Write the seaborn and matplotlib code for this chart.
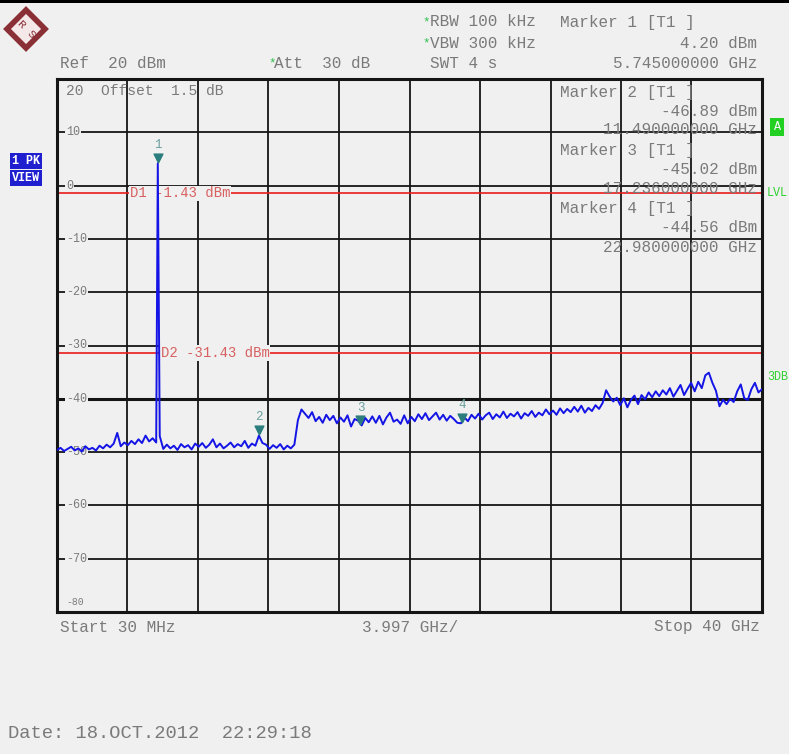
import numpy as np
import pandas as pd
import seaborn as sns
import matplotlib.pyplot as plt
from matplotlib.patches import Polygon, Rectangle
from matplotlib.transforms import offset_copy

# Sweep: 30 MHz .. 40 GHz, trace levels in dBm
freq_ghz = np.linspace(0.03, 40.0, 200)
level_dbm = [
    -49.6, -49.2, -49.8, -49.4, -49.0, -49.7, -49.3, -49.9, -48.9, -49.5,
    -49.2, -49.7, -48.8, -49.3, -48.6, -49.1, -48.4, -46.4, -48.9, -48.2,
    -48.7, -47.9, -48.5, -47.6, -48.3, -46.9, -48.0, -47.4, -48.2, -47.0,
    -49.4, -48.6, -49.3, -48.8, -49.6, -48.5, -49.1, -48.7, -49.5, -48.4,
    -49.0, -48.3, -49.2, -48.6, -47.6, -49.1, -48.4, -49.3, -48.8, -48.2,
    -49.1, -48.5, -48.9, -47.9, -49.2, -48.4, -48.8, -46.9, -48.3, -48.6,
    -49.4, -48.7, -49.2, -48.5, -49.5, -48.8, -49.3, -48.6, -44.0, -42.0,
    -42.8, -43.6, -42.5, -44.2, -43.4, -44.5, -43.0, -44.0, -43.2, -44.6,
    -43.5, -44.3, -43.1, -45.2, -43.8, -44.1, -45.0, -43.6, -44.4, -43.3,
    -44.5, -43.2, -44.8, -43.5, -42.6, -44.3, -43.9, -44.7, -43.1, -44.6,
    -43.4, -44.2, -42.9, -43.8, -42.7, -44.0, -43.3, -42.6, -43.9, -43.0,
    -44.1, -43.2, -43.8, -44.5, -44.6, -43.5, -44.2, -43.0, -43.7, -42.8,
    -43.9, -43.1, -42.6, -43.8, -42.9, -43.5, -42.4, -43.6, -42.8, -43.3,
    -42.5, -43.7, -42.7, -43.2, -42.3, -43.4, -42.6, -43.1, -42.0, -42.9,
    -42.2, -43.0, -41.8, -42.7, -41.9, -42.5, -41.5, -42.4, -41.3, -42.6,
    -41.7, -42.3, -41.2, -41.9, -40.8, -38.4, -39.6, -40.5, -39.8, -41.2,
    -39.9, -41.6, -40.2, -39.4, -41.0, -39.3, -40.1, -38.8, -39.7, -38.6,
    -39.5, -38.4, -39.2, -38.0, -39.6, -38.5, -37.4, -39.3, -38.1, -37.0,
    -38.6, -36.8, -38.0, -35.6, -35.1, -37.0, -38.5, -41.4, -40.2, -41.0,
    -40.0, -40.6, -38.6, -37.3, -39.9, -40.2, -38.2, -37.0, -38.8, -38.2,
]

marker_ids = ['1', '2', '3', '4']
marker_freq = [5.745, 11.49, 17.236, 22.98]
marker_level = [4.20, -46.89, -45.02, -44.56]

display_lines = [('D1', -1.43), ('D2', -31.43)]
y_ticks = [10, 0, -10, -20, -30, -40, -50, -60, -70]

BG = '#f0f0f0'
GREY = '#7a7a7a'
W, H = 789, 754

sns.set_style('white')
plt.rcParams['font.family'] = ['Liberation Mono', 'DejaVu Sans Mono']

fig = plt.figure(figsize=(W / 100, H / 100), dpi=100, facecolor=BG)
ax = fig.add_axes([57 / W, 1 - 612 / H, 705 / W, 533 / H])
ax.set_facecolor(BG)


def ftext(x, y, s, **kw):
    kw.setdefault('color', GREY)
    kw.setdefault('fontsize', 11.5)
    kw.setdefault('va', 'center')
    return fig.text(x / W, 1 - y / H, s, **kw)


# trace (marker 1 peak is a single sweep point)
df = pd.DataFrame({'freq': freq_ghz, 'level': level_dbm})
df = pd.concat([df, pd.DataFrame({'freq': [marker_freq[0]], 'level': [marker_level[0]]})])
df = df.sort_values('freq')
sns.lineplot(data=df, x='freq', y='level', color='#1414e6', lw=1.4,
             estimator=None, sort=False, ax=ax, zorder=4)

ax.set_xlim(0.03, 40.0)
ax.set_ylim(-80, 20)
ax.set_xticks(np.linspace(0.03, 40.0, 11))
ax.set_yticks(np.arange(-80, 21, 10))
ax.tick_params(length=0, labelbottom=False, labelleft=False)
ax.set_xlabel('')
ax.set_ylabel('')
ax.grid(True, color='#151515', lw=1.3)
ax.axhline(-40, color='#151515', lw=2.2, zorder=1)
for s in ax.spines.values():
    s.set_color('#151515')
    s.set_linewidth(2.2)

# y labels drawn inside the grid
ytr = ax.get_yaxis_transform()
for v in y_ticks:
    ax.text(0.013, v, '-' + str(abs(v)) if v < 0 else str(v), transform=ytr,
            fontsize=8.5, color=GREY, ha='left', va='center', zorder=3,
            bbox=dict(facecolor=BG, edgecolor='none', pad=0.6))
ax.text(0.013, -78.2, '-80', transform=ytr, fontsize=7, color=GREY,
        ha='left', va='center')

# display lines
for (name, val), lx in zip(display_lines, [4.17, 5.9]):
    ax.axhline(val, color='#e81c1c', lw=1.2, zorder=2)
    ax.text(lx, val, f'{name} {val:.2f} dBm', fontsize=10, color='#d86060',
            ha='left', va='center', zorder=3,
            bbox=dict(facecolor=BG, edgecolor='none', pad=0.5))

# markers
tri = offset_copy(ax.transData, fig=fig, x=0, y=4, units='points')
for mid, f, lv in zip(marker_ids, marker_freq, marker_level):
    ax.scatter(f, lv, marker='v', s=40, color='#2b7d7d', transform=tri, zorder=5)
    ax.annotate(mid, (f, lv), xytext=(0, 13), textcoords='offset points',
                ha='center', va='center', fontsize=9, color='#6aa0a0', zorder=5)

# header
ftext(60, 63, 'Ref  20 dBm')
ftext(268, 63, '*', color='#2fbf4f', fontsize=9)
ftext(274, 63, 'Att  30 dB')
ftext(422, 22, '*', color='#2fbf4f', fontsize=9)
ftext(430, 22, 'RBW 100 kHz')
ftext(422, 43, '*', color='#2fbf4f', fontsize=9)
ftext(430, 43, 'VBW 300 kHz')
ftext(430, 63, 'SWT 4 s')
ftext(560, 22, 'Marker 1 [T1 ]')
ftext(757, 43, '4.20 dBm', ha='right')
ftext(757, 63, '5.745000000 GHz', ha='right')

# marker readouts inside the grid
for i, (mid, f, lv) in enumerate(zip(marker_ids[1:], marker_freq[1:], marker_level[1:])):
    y0 = 92 + i * 58.5
    ftext(560, y0, f'Marker {mid} [T1 ]', zorder=6)
    ftext(757, y0 + 19, f'{lv:.2f} dBm', ha='right', zorder=6)
    ftext(757, y0 + 38, f'{f:.9f} GHz', ha='right', zorder=6)

ftext(66, 91, '20  Offset  1.5 dB', fontsize=10.5)

# footer
ftext(60, 627, 'Start 30 MHz')
ftext(410, 627, '3.997 GHz/', ha='center')
ftext(760, 627, 'Stop 40 GHz', ha='right')
ftext(8, 733, 'Date: 18.OCT.2012  22:29:18', fontsize=13.5)

# side annotations
for y0, txt in [(161, '1 PK'), (178, 'VIEW')]:
    ftext(26, y0, txt, ha='center', color='white', fontsize=8.5, fontweight='bold',
          bbox=dict(facecolor='#1f1fd0', edgecolor='none', pad=1.8))
ftext(777, 127, 'A', ha='center', color='white', fontsize=8.5,
      bbox=dict(facecolor='#22d022', edgecolor='none', pad=2.5))
ftext(767, 193, 'LVL', color='#30d030', fontsize=8.5)
ftext(767, 377, '3DB', color='#30d030', fontsize=8.5)

# top bar and logo
fig.patches.append(Rectangle((0, 1 - 3 / H), 1, 3 / H, transform=fig.transFigure,
                             facecolor='black', edgecolor='none'))
cx, cy, r = 26, 29, 19
pts = [((cx) / W, 1 - (cy - r) / H), ((cx + r) / W, 1 - cy / H),
       ((cx) / W, 1 - (cy + r) / H), ((cx - r) / W, 1 - cy / H)]
fig.patches.append(Polygon(pts, closed=True, transform=fig.transFigure,
                           facecolor='#f4e8e8', edgecolor='#8a2f35', lw=4))
ftext(cx - 5, cy - 5, 'R', fontsize=8, color='#8a2f35', ha='center', rotation=-45)
ftext(cx + 5, cy + 5, 'S', fontsize=8, color='#8a2f35', ha='center', rotation=-45)

fig.savefig('out.png', dpi=100, facecolor=BG)
